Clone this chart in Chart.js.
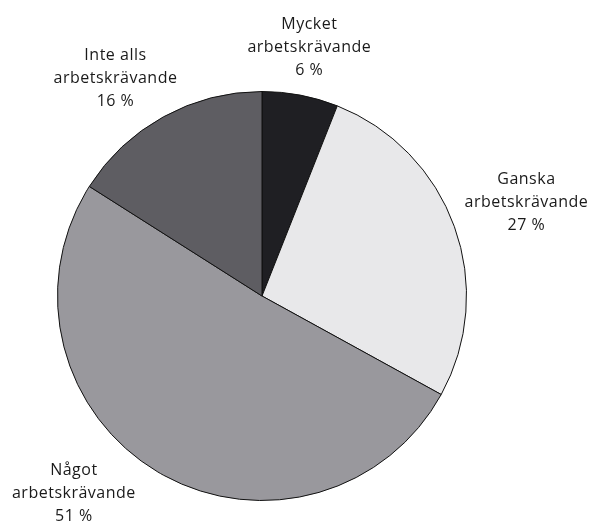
<!DOCTYPE html>
<html>
<head>
<meta charset="utf-8">
<script src="https://cdn.jsdelivr.net/npm/chart.js@4"></script>
<style>
  html, body { margin: 0; padding: 0; background: #fff; }
  #wrap { width: 596px; height: 524px; }
</style>
</head>
<body>
<div id="wrap"><canvas id="chart" width="596" height="524"></canvas></div>
<script>
let categories = ["Mycket", "Ganska", "Något", "Inte alls"];
let values = [6, 27, 51, 16];
let colors = ["#1f1f23", "#e8e8ea", "#99989d", "#5e5d62"];
// label offset from the middle of each slice's outer edge
let labelOffsets = [[9, -48], [72, -24], [-84, 21], [-48, -38]];

const outsideLabels = {
    id: "outsideLabels",
    afterDraw(chart) {
        let ctx = chart.ctx;
        let arcs = chart.getDatasetMeta(0).data;
        ctx.save();
        ctx.font = "16px 'Open Sans'";
        ctx.letterSpacing = "0.5px";
        ctx.fillStyle = "#1a1a1a";
        ctx.textAlign = "center";
        ctx.textBaseline = "middle";
        arcs.forEach((arc, i) => {
            let mid = (arc.startAngle + arc.endAngle) / 2;
            let x = arc.x + Math.cos(mid) * arc.outerRadius + labelOffsets[i][0];
            let y = arc.y + Math.sin(mid) * arc.outerRadius + labelOffsets[i][1];
            let lines = [categories[i], "arbetskrävande", values[i] + " %"];
            lines.forEach((t, j) => ctx.fillText(t, x, y + (j - 1) * 23));
        });
        ctx.restore();
    }
};

new Chart(document.getElementById("chart"), {
    type: 'pie',
    data: {
        labels: categories,
        datasets: [{
            data: values,
            backgroundColor: colors,
            borderColor: "#111",
            borderWidth: 1
        }]
    },
    options: {
        responsive: false,
        animation: false,
        layout: { padding: { left: 57, right: 129, top: 91, bottom: 23 } },
        plugins: {
            legend: { display: false },
            tooltip: { enabled: false }
        }
    },
    plugins: [outsideLabels]
});
</script>
</body>
</html>
